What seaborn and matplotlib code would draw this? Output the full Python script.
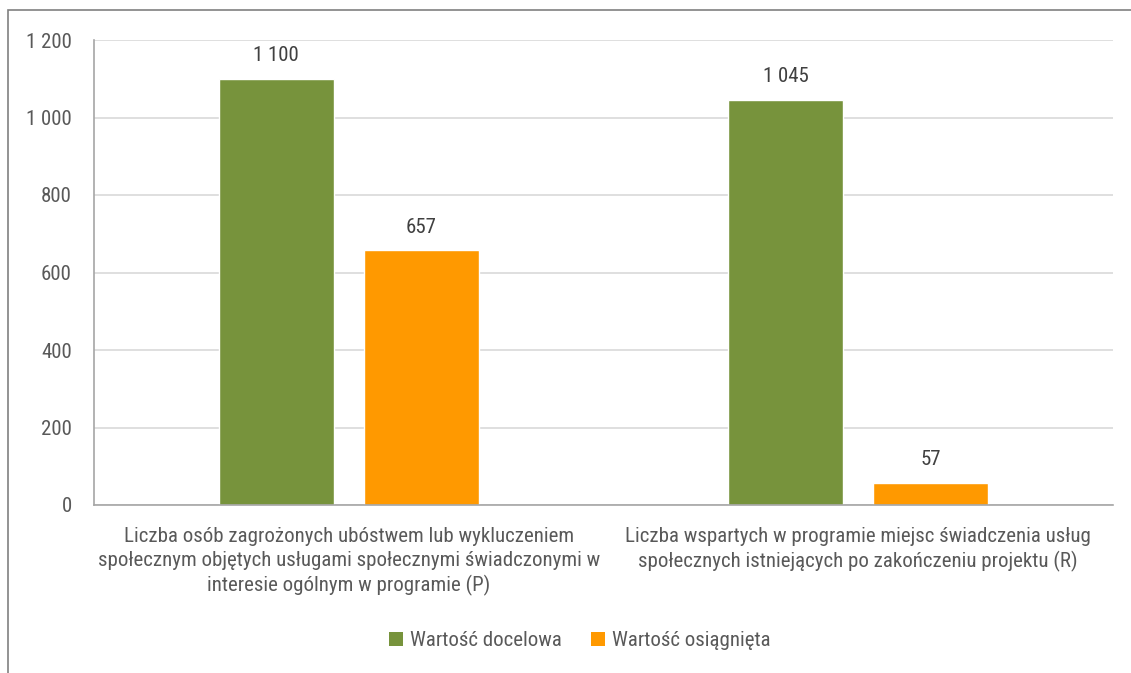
import matplotlib
matplotlib.use("Agg")
import matplotlib.pyplot as plt
from matplotlib import font_manager as fm
from matplotlib.patches import Rectangle, Patch
from matplotlib.ticker import FuncFormatter
import seaborn as sns
import pandas as pd

categories = [
    "Liczba osób zagrożonych ubóstwem lub wykluczeniem\nspołecznym objętych usługami społecznymi świadczonymi w\ninteresie ogólnym w programie (P)",
    "Liczba wspartych w programie miejsc świadczenia usług\nspołecznych istniejących po zakończeniu projektu (R)",
]
series_names = ["Wartość docelowa", "Wartość osiągnięta"]
target_values = [1100, 1045]
achieved_values = [657, 57]
y_ticks = [0, 200, 400, 600, 800, 1000, 1200]

colors = ["#77933c", "#ff9900"]

sns.set_theme(style="white")
names = {f.name for f in fm.fontManager.ttflist}
font = "Roboto"
for cand in ["Roboto Condensed", "Liberation Sans Narrow", "Roboto"]:
    if cand in names:
        font = cand
        break
plt.rcParams["font.family"] = [font, "DejaVu Sans"]

df = pd.DataFrame({
    "category": categories * 2,
    "series": [series_names[0]] * 2 + [series_names[1]] * 2,
    "value": target_values + achieved_values,
})

fig = plt.figure(figsize=(11.31, 6.73), dpi=100)
ax = fig.add_axes([94 / 1131, 1 - 505 / 673, (1113 - 94) / 1131, (505 - 40) / 673])

sns.barplot(data=df, x="category", y="value", hue="series", palette=colors,
            width=0.57, gap=0.21, saturation=1, ax=ax, legend=False)

def fmt(v, pos=None):
    return f"{int(v):,}".replace(",", " ")

for cont in ax.containers:
    ax.bar_label(cont, labels=[fmt(b.get_height()) for b in cont], padding=10,
                 fontsize=15, color="#404040")

ax.set_ylim(0, 1200)
ax.set_xlim(-0.5, 1.5)
ax.set_yticks(y_ticks)
ax.yaxis.set_major_formatter(FuncFormatter(fmt))
ax.grid(axis="y", color="#d9d9d9", linewidth=1.2)
ax.set_axisbelow(True)
ax.set_xlabel("")
ax.set_ylabel("")
for s in ["top", "right"]:
    ax.spines[s].set_visible(False)
for s in ["left", "bottom"]:
    ax.spines[s].set_color("#a6a6a6")
    ax.spines[s].set_linewidth(1.2)
ax.tick_params(axis="y", length=0, pad=16, labelsize=15, labelcolor="#595959")
ax.tick_params(axis="x", length=0, pad=16, labelsize=15, labelcolor="#595959")
for lab in ax.get_xticklabels():
    lab.set_linespacing(1.3)

handles = [Patch(facecolor=c, edgecolor="none") for c in colors]
fig.legend(handles, series_names, loc="center", bbox_to_anchor=(580 / 1131, 1 - 641 / 673),
           ncol=2, frameon=False, fontsize=15, labelcolor="#595959",
           handlelength=0.65, handleheight=0.65, handletextpad=0.35, columnspacing=1.4)

fig.add_artist(Rectangle((8 / 1131, -0.2), 1.5, 1.2 - 10 / 673,
                         transform=fig.transFigure, fill=False,
                         edgecolor="#808080", linewidth=1.2))

fig.savefig("out.png", dpi=100)
